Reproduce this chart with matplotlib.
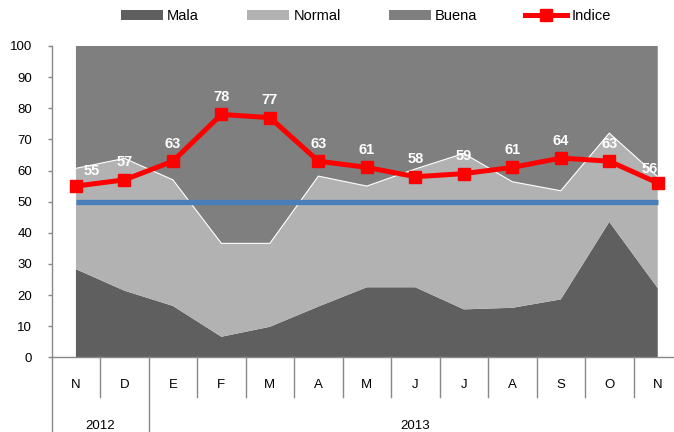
import matplotlib
matplotlib.use('Agg')
import matplotlib.pyplot as plt
import numpy as np
from matplotlib.patches import Patch
from matplotlib.lines import Line2D
import matplotlib.transforms as mtrans

plt.rcParams['font.family'] = ['Liberation Sans', 'DejaVu Sans']

# ---- data ----
months = ['N', 'D', 'E', 'F', 'M', 'A', 'M', 'J', 'J', 'A', 'S', 'O', 'N']
years = ['2012', '2013']
year_first = [0, 2]          # first month index of each year
year_last = [1, 12]          # last month index of each year
mala = [28.3, 21.4, 16.5, 6.6, 9.8, 16.3, 22.5, 22.5, 15.4, 15.9, 18.6, 43.5, 22.2]
normal = [32.4, 42.5, 40.5, 30.0, 26.8, 41.9, 32.5, 38.0, 50.1, 40.5, 34.9, 28.5, 35.8]
buena = [39.3, 36.1, 43.0, 63.4, 63.4, 41.8, 45.0, 39.5, 34.5, 43.6, 46.5, 28.0, 42.0]
indice = [55, 57, 63, 78, 77, 63, 61, 58, 59, 61, 64, 63, 56]
umbral = [50] * len(months)

c_mala, c_normal, c_buena = '#5f5f5f', '#b2b2b2', '#7f7f7f'
c_red, c_blue = '#ff0000', '#4a7ebb'
c_axis = '#888888'

fig = plt.figure(figsize=(6.74, 4.32), dpi=100)
W, H = 674, 432
x0, x1, y0, y1 = 51.7, 682.0, 357.3, 46.0
ax = fig.add_axes([x0 / W, (H - y0) / H, (x1 - x0) / W, (y0 - y1) / H])

x = np.arange(len(months))
m = np.array(mala)
n = np.array(normal)
b = np.array(buena)
ax.stackplot(x, m, n, b, colors=[c_mala, c_normal, c_buena], linewidth=0)
ax.plot(x, m + n, color='white', lw=0.8, zorder=3)

ax.plot(x, umbral, color=c_blue, lw=3.8, solid_capstyle='butt', zorder=4)
ax.plot(x, indice, color=c_red, lw=3.6, marker='s', markersize=8,
        markeredgecolor=c_red, zorder=5)

last = len(indice) - 1
for i, v in enumerate(indice):
    if i == 0:
        dx, dy = 11, 11
    elif i == last:
        dx, dy = -6, 10
    else:
        dx, dy = 0, 12.5
    ax.annotate(str(v), (i, v), xytext=(dx, dy), textcoords='offset points',
                ha='center', va='center', color='white', fontweight='bold',
                fontsize=10.5, zorder=6)

ax.set_xlim(-0.5, len(months) - 0.5)
ax.set_ylim(0, 100)
ax.set_yticks(np.arange(0, 101, 10))
ax.tick_params(axis='y', direction='out', length=3, width=1, color=c_axis,
               pad=11, labelsize=9.5, labelcolor='black')
ax.set_xticks([])
for s in ['top', 'right']:
    ax.spines[s].set_visible(False)
for s in ['left', 'bottom']:
    ax.spines[s].set_color(c_axis)
    ax.spines[s].set_linewidth(1)

# category axis decorations
trans = mtrans.blended_transform_factory(ax.transData, ax.transAxes)
ah = y0 - y1
y_month = -(385 - y0) / ah
y_year = -(426 - y0) / ah
y_sep_short = -(396.7 - y0) / ah
y_sep_long = -(H + 2 - y0) / ah
for i, lab in enumerate(months):
    ax.text(i, y_month, lab, transform=trans, ha='center', va='center',
            fontsize=9.5, color='black')
year_bounds = [f - 0.5 for f in year_first]
for k in range(len(months) + 1):
    xb = k - 0.5
    y_end = y_sep_long if xb in year_bounds else y_sep_short
    ax.plot([xb, xb], [0, y_end], transform=trans, color=c_axis, lw=1,
            clip_on=False)
for yl, f, l in zip(years, year_first, year_last):
    ax.text((f + l) / 2, y_year, yl, transform=trans, ha='center',
            va='center', fontsize=9.5, color='black')

handles = [Patch(facecolor=c_mala, edgecolor='none'),
           Patch(facecolor=c_normal, edgecolor='none'),
           Patch(facecolor=c_buena, edgecolor='none'),
           Line2D([], [], color=c_red, lw=3.6, marker='s', markersize=8)]
labels = ['Mala', 'Normal', 'Buena', 'Indice']
fig.legend(handles, labels, loc='center', ncol=4,
           bbox_to_anchor=(366 / W, 1 - 16 / H), frameon=False,
           fontsize=10.5, handlelength=2.88, handleheight=0.62,
           handletextpad=0.28, columnspacing=3.3, numpoints=1)

fig.savefig('out.png', dpi=100)
